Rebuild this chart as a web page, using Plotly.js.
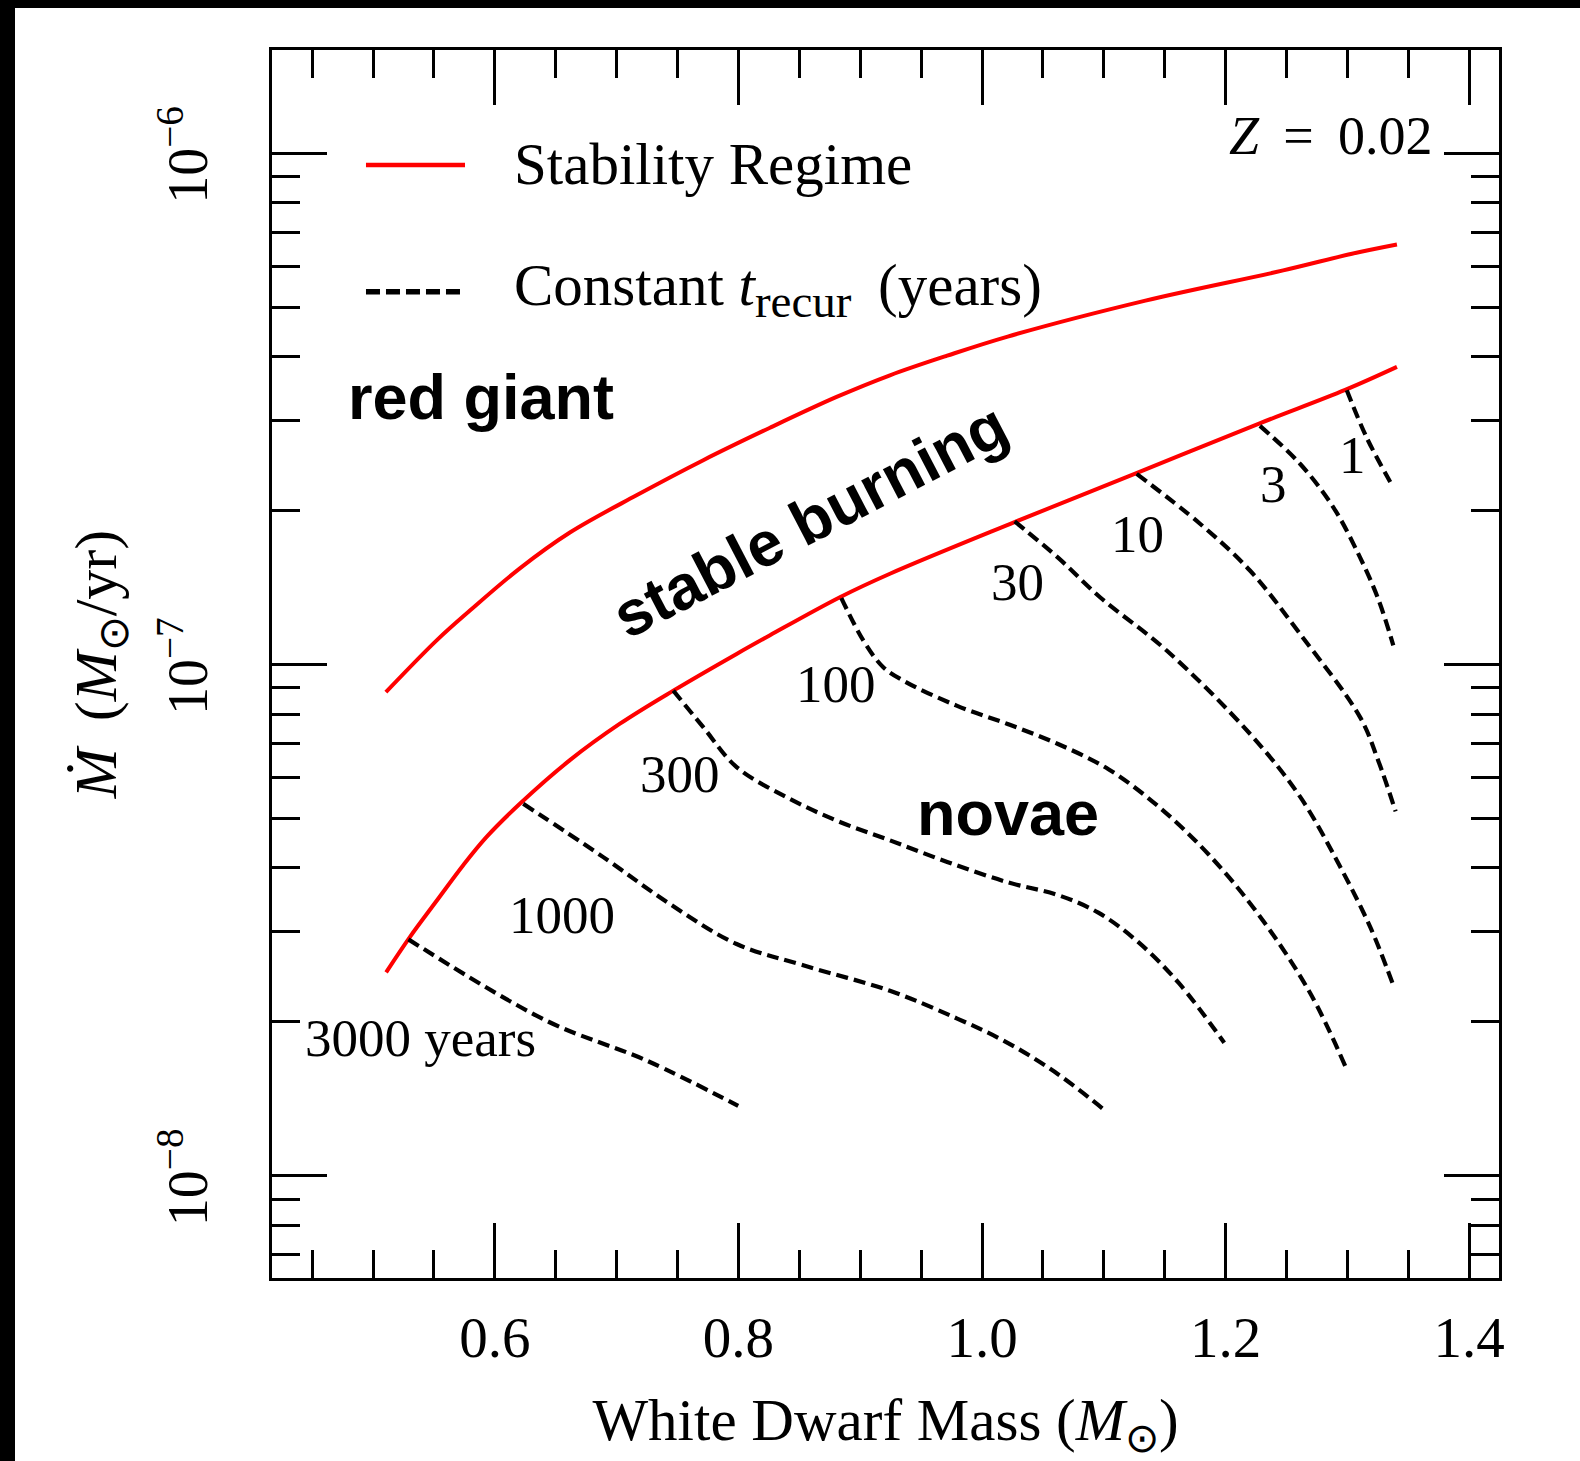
<!DOCTYPE html>
<html>
<head>
<meta charset="utf-8">
<script src="https://cdn.plot.ly/plotly-3.0.1.min.js"></script>
<style>
html,body{margin:0;padding:0;background:#000;width:1580px;height:1461px;overflow:hidden}
#wrap{position:absolute;left:15px;top:8px;width:1565px;height:1453px;background:#fff}
#plot{width:1565px;height:1453px}
</style>
</head>
<body>
<div id="wrap"><div id="plot"></div></div>
<script>
// ---- Stability regime boundaries (white dwarf mass in Msun, accretion rate in Msun/yr)
var massUpper = [0.5105,0.5522,0.5795,0.6205,0.6616,0.7163,0.7711,0.8259,0.8806,0.9244,0.9714,1.0211,1.1342,1.2473,1.3038,1.3407];
var mdotUpper = [8.83e-8,1.115e-7,1.275e-7,1.542e-7,1.812e-7,2.143e-7,2.51e-7,2.905e-7,3.337e-7,3.679e-7,4.019e-7,4.38e-7,5.15e-7,5.90e-7,6.36e-7,6.63e-7];
var massLower = [0.5107,0.5302,0.5522,0.5740,0.5932,0.6205,0.6616,0.7027,0.7465,0.7985,0.8259,0.8833,0.9244,1.0267,1.1258,1.2275,1.2982,1.3407];
var mdotLower = [2.50e-8,2.93e-8,3.45e-8,4.05e-8,4.60e-8,5.34e-8,6.50e-8,7.66e-8,8.89e-8,1.049e-7,1.141e-7,1.354e-7,1.505e-7,1.899e-7,2.363e-7,2.96e-7,3.444e-7,3.82e-7];

// ---- Constant recurrence-time contours (years)
var massT1 = [1.2995,1.3158,1.3377];
var mdotT1 = [3.44e-7,2.78e-7,2.22e-7];
var massT3 = [1.2282,1.2611,1.2885,1.3104,1.3255,1.3377];
var mdotT3 = [2.93e-7,2.47e-7,2.03e-7,1.62e-7,1.34e-7,1.09e-7];
var massT10 = [1.1270,1.1790,1.2200,1.2611,1.3104,1.3255,1.3396];
var mdotT10 = [2.36e-7,1.885e-7,1.527e-7,1.148e-7,7.89e-8,6.47e-8,5.16e-8];
var massT30 = [1.0268,1.0624,1.0969,1.1516,1.2200,1.2610,1.2941,1.3189,1.3371];
var mdotT30 = [1.905e-7,1.618e-7,1.354e-7,1.065e-7,7.32e-8,5.52e-8,4.02e-8,3.06e-8,2.38e-8];
var massT100 = [0.8845,0.9025,0.9189,0.9383,0.9796,1.0210,1.0624,1.1038,1.1451,1.1865,1.2276,1.2693,1.2982];
var mdotT100 = [1.349e-7,1.115e-7,9.88e-8,9.22e-8,8.30e-8,7.65e-8,6.99e-8,6.24e-8,5.27e-8,4.24e-8,3.23e-8,2.28e-8,1.64e-8];
var massT300 = [0.7465,0.7711,0.7985,0.8396,0.8806,0.9244,0.9714,1.0210,1.0624,1.0955,1.1286,1.1617,1.1989];
var mdotT300 = [8.89e-8,7.54e-8,6.30e-8,5.50e-8,4.95e-8,4.53e-8,4.11e-8,3.75e-8,3.54e-8,3.27e-8,2.86e-8,2.38e-8,1.82e-8];
var massT1000 = [0.6233,0.6890,0.7437,0.7985,0.8532,0.9244,0.9796,1.0210,1.0624,1.0996];
var mdotT1000 = [5.34e-8,4.20e-8,3.40e-8,2.84e-8,2.58e-8,2.30e-8,2.03e-8,1.82e-8,1.58e-8,1.35e-8];
var massT3000 = [0.5290,0.6424,0.7246,0.7998];
var mdotT3000 = [2.90e-8,2.01e-8,1.68e-8,1.37e-8];

// ---- Tick labels
var xTickVals = [0.6,0.8,1.0,1.2,1.4];
var xTickText = ['0.6','0.8','1.0','1.2','1.4'];
var xMinorVals = [0.45,0.5,0.55,0.65,0.7,0.75,0.85,0.9,0.95,1.05,1.1,1.15,1.25,1.3,1.35];
var yTickVals = [1e-8,1e-7,1e-6];
var yTickText = ['10<sup>\u22128</sup>','10<sup>\u22127</sup>','10<sup>\u22126</sup>'];
var yMinorVals = [7e-9,8e-9,9e-9,2e-8,3e-8,4e-8,5e-8,6e-8,7e-8,8e-8,9e-8,2e-7,3e-7,4e-7,5e-7,6e-7,7e-7,8e-7,9e-7];

// ---- Contour labels
var contourLabels = ['1','3','10','30','100','300','1000','3000 years'];

var SERIF = 'Liberation Serif, Times New Roman, serif';
var SANS = 'Liberation Sans, Arial, Helvetica, sans-serif';

var redLine = {color:'#ff0000', width:4, shape:'spline', smoothing:1.0};
var dashLine = {color:'#000000', width:4.2, dash:'12px,6px', shape:'spline', smoothing:1.0};

function tr(x, y, line, name){
  return {x:x, y:y, type:'scatter', mode:'lines', line:line, name:name, showlegend:false, hoverinfo:'skip'};
}

var data = [
  tr(massUpper, mdotUpper, redLine, 'Stability Regime'),
  tr(massLower, mdotLower, redLine, 'Stability Regime'),
  tr(massT1, mdotT1, dashLine, '1'),
  tr(massT3, mdotT3, dashLine, '3'),
  tr(massT10, mdotT10, dashLine, '10'),
  tr(massT30, mdotT30, dashLine, '30'),
  tr(massT100, mdotT100, dashLine, '100'),
  tr(massT300, mdotT300, dashLine, '300'),
  tr(massT1000, mdotT1000, dashLine, '1000'),
  tr(massT3000, mdotT3000, dashLine, '3000')
];

function lbl(text, x, y, opts){
  var a = {text:text, x:x, y:y, xref:'paper', yref:'paper', showarrow:false,
           xanchor:'center', yanchor:'middle', font:{family:SERIF, size:53, color:'#000'}};
  for (var k in opts) a[k] = opts[k];
  return a;
}

var annotations = [
  lbl(contourLabels[0], 0.8806, 0.6702),
  lbl(contourLabels[1], 0.8161, 0.6464),
  lbl(contourLabels[2], 0.7054, 0.6057),
  lbl(contourLabels[3], 0.6074, 0.5670),
  lbl(contourLabels[4], 0.4595, 0.4835),
  lbl(contourLabels[5], 0.3325, 0.4103),
  lbl(contourLabels[6], 0.2361, 0.2956),
  lbl(contourLabels[7], 0.0250, 0.1958, {xanchor:'left'}),
  lbl('<b>red giant</b>', 0.0600, 0.7178, {xanchor:'left', font:{family:SANS, size:63, color:'#000'}}),
  lbl('<b>stable burning</b>', 0.4385, 0.6170, {textangle:-27.5, font:{family:SANS, size:63, color:'#000'}}),
  lbl('<b>novae</b>', 0.5996, 0.3785, {font:{family:SANS, size:63, color:'#000'}}),
  lbl('<i>Z</i>\u2009 = \u20090.02', 0.9480, 0.9301, {xanchor:'right', font:{family:SERIF, size:54, color:'#000'}}),
  lbl('Stability Regime', 0.1960, 0.9068, {xanchor:'left', font:{family:SERIF, size:59, color:'#000'}}),
  lbl('Constant <i>t</i><sub><span style="font-size:47px">recur</span></sub> \u2009(years)', 0.1960, 0.8046, {xanchor:'left', font:{family:SERIF, size:59, color:'#000'}})
];

var shapes = [
  {type:'line', xref:'paper', yref:'paper', x0:0.0766, x1:0.1573, y0:0.9064, y1:0.9064, line:{color:'#ff0000', width:4.5}},
  {type:'line', xref:'paper', yref:'paper', x0:0.0766, x1:0.1573, y0:0.8032, y1:0.8032, line:{color:'#000000', width:5.5, dash:'14px,6px'}}
];

var layout = {
  width:1565, height:1453,
  margin:{l:257, r:81, t:42, b:183, pad:0},
  paper_bgcolor:'#ffffff', plot_bgcolor:'#ffffff',
  showlegend:false,
  font:{family:SERIF, color:'#000', size:54},
  xaxis:{
    range:[0.417,1.4245], tickmode:'array', tickvals:xTickVals, ticktext:xTickText,
    ticks:'inside', ticklen:55, tickwidth:3, tickcolor:'#000',
    showline:true, linewidth:3, linecolor:'#000', mirror:'ticks',
    showgrid:false, zeroline:false,
    minor:{tickmode:'array', tickvals:xMinorVals, ticks:'inside', ticklen:28, tickwidth:3, tickcolor:'#000', showgrid:false},
    tickfont:{family:SERIF, size:57, color:'#000'}, ticklabelstandoff:8,
    title:{text:'White Dwarf Mass (<i>M</i><sub>\u2299</sub>)', font:{family:SERIF, size:59, color:'#000'}, standoff:79}
  },
  yaxis:{
    type:'log', range:[-8.2,-5.798], tickmode:'array', tickvals:yTickVals, ticktext:yTickText,
    ticks:'inside', ticklen:55, tickwidth:3, tickcolor:'#000',
    showline:true, linewidth:3, linecolor:'#000', mirror:'ticks',
    showgrid:false, zeroline:false, tickangle:-90,
    minor:{tickmode:'array', tickvals:yMinorVals, ticks:'inside', ticklen:28, tickwidth:3, tickcolor:'#000', showgrid:false},
    tickfont:{family:SERIF, size:56, color:'#000'}, ticklabelstandoff:40, ticklabelshift:10,
    title:{text:'<i>\u1E40</i>\u2009 (<i>M</i><sub>\u2299</sub>/yr)', font:{family:SERIF, size:60, color:'#000'}, standoff:13}
  },
  annotations:annotations,
  shapes:shapes
};

Plotly.newPlot('plot', data, layout, {staticPlot:true, displayModeBar:false});
</script>
</body>
</html>
